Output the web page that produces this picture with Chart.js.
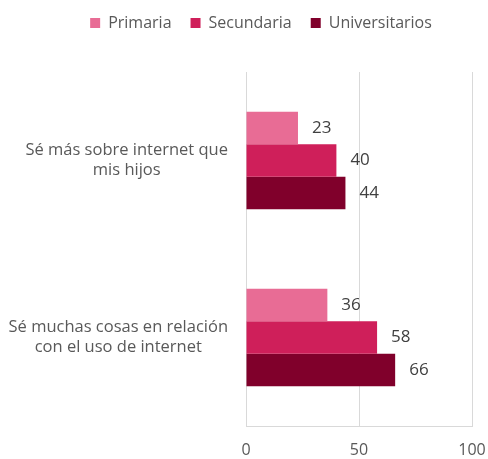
<!DOCTYPE html>
<html>
<head>
<meta charset="utf-8">
<script src="https://cdn.jsdelivr.net/npm/chart.js@4"></script>
<style>
  html, body { margin: 0; padding: 0; background: #fff; }
</style>
</head>
<body>
<canvas id="chart" width="488" height="459"></canvas>
<script>
const categories = [
  ['Sé más sobre internet que', 'mis hijos'],
  ['Sé muchas cosas en relación', 'con el uso de internet']
];
const seriesNames = ['Primaria', 'Secundaria', 'Universitarios'];
const primaria = [23, 36];
const secundaria = [40, 58];
const universitarios = [44, 66];
const xTicks = [0, 50, 100];
const colors = ['#e86c95', '#cf1f5a', '#80002b'];

const FONT = '"Open Sans", sans-serif';

// etiquetas de datos a la derecha de cada barra
const labelPlugin = {
  id: 'barLabels',
  afterDatasetsDraw(chart) {
    const ctx = chart.ctx;
    ctx.save();
    ctx.font = '17px ' + FONT;
    ctx.fillStyle = '#404040';
    ctx.textAlign = 'left';
    ctx.textBaseline = 'middle';
    chart.data.datasets.forEach((ds, i) => {
      chart.getDatasetMeta(i).data.forEach((bar, j) => {
        ctx.fillText(ds.data[j], bar.x + 14, bar.y);
      });
    });
    ctx.restore();
  }
};

// etiquetas de categoría: cada bloque alineado a la derecha, líneas centradas
const catLabels = {
  id: 'catLabels',
  afterDraw(chart) {
    const ctx = chart.ctx;
    const yScale = chart.scales.y;
    const right = yScale.right - 18;
    const lineH = 20.5;
    ctx.save();
    ctx.font = '16.5px ' + FONT;
    ctx.fillStyle = '#595959';
    ctx.textAlign = 'center';
    ctx.textBaseline = 'middle';
    chart.data.labels.forEach((lines, i) => {
      const w = Math.max(...lines.map(l => ctx.measureText(l).width));
      const cx = right - w / 2;
      const cy = yScale.getPixelForTick(i);
      lines.forEach((l, k) => {
        ctx.fillText(l, cx, cy + (k - (lines.length - 1) / 2) * lineH);
      });
    });
    ctx.restore();
  }
};

// altura fija de la leyenda y leve desplazamiento
const legendFix = {
  id: 'legendFix',
  beforeLayout(chart) {
    const lg = chart.legend;
    if (lg && !lg._patched) {
      const fit = lg.fit;
      lg.fit = function () {
        fit.call(this);
        this.height = 72;
      };
      lg._patched = true;
    }
  },
  afterLayout(chart) {
    chart.legend.left += 17;
    chart.legend.right += 17;
    chart.legend.top -= 4;
  }
};

new Chart(document.getElementById('chart'), {
  type: 'bar',
  data: {
    labels: categories,
    datasets: [
      { label: seriesNames[0], data: primaria, backgroundColor: colors[0] },
      { label: seriesNames[1], data: secundaria, backgroundColor: colors[1] },
      { label: seriesNames[2], data: universitarios, backgroundColor: colors[2] }
    ]
  },
  options: {
    indexAxis: 'y',
    responsive: false,
    animation: false,
    categoryPercentage: 0.55,
    barPercentage: 1.0,
    layout: { padding: 0 },
    plugins: {
      legend: {
        position: 'top',
        labels: {
          boxWidth: 10,
          boxHeight: 10,
          padding: 19,
          color: '#595959',
          font: { family: FONT, size: 16 }
        }
      },
      tooltip: { enabled: false }
    },
    scales: {
      x: {
        min: 0,
        max: 100,
        afterBuildTicks(axis) {
          axis.ticks = xTicks.map(v => ({ value: v }));
        },
        afterFit(axis) {
          axis.height = 33;
          axis.paddingLeft = 0;
          axis.paddingRight = 16;
        },
        grid: { color: '#d9d9d9', drawTicks: false },
        border: { color: '#d9d9d9' },
        ticks: {
          color: '#595959',
          padding: 15,
          font: { family: FONT, size: 16 }
        }
      },
      y: {
        grid: { display: false, drawTicks: false },
        border: { display: false },
        afterFit(axis) { axis.width = 246; },
        ticks: { display: false }
      }
    }
  },
  plugins: [labelPlugin, catLabels, legendFix]
});
</script>
</body>
</html>
